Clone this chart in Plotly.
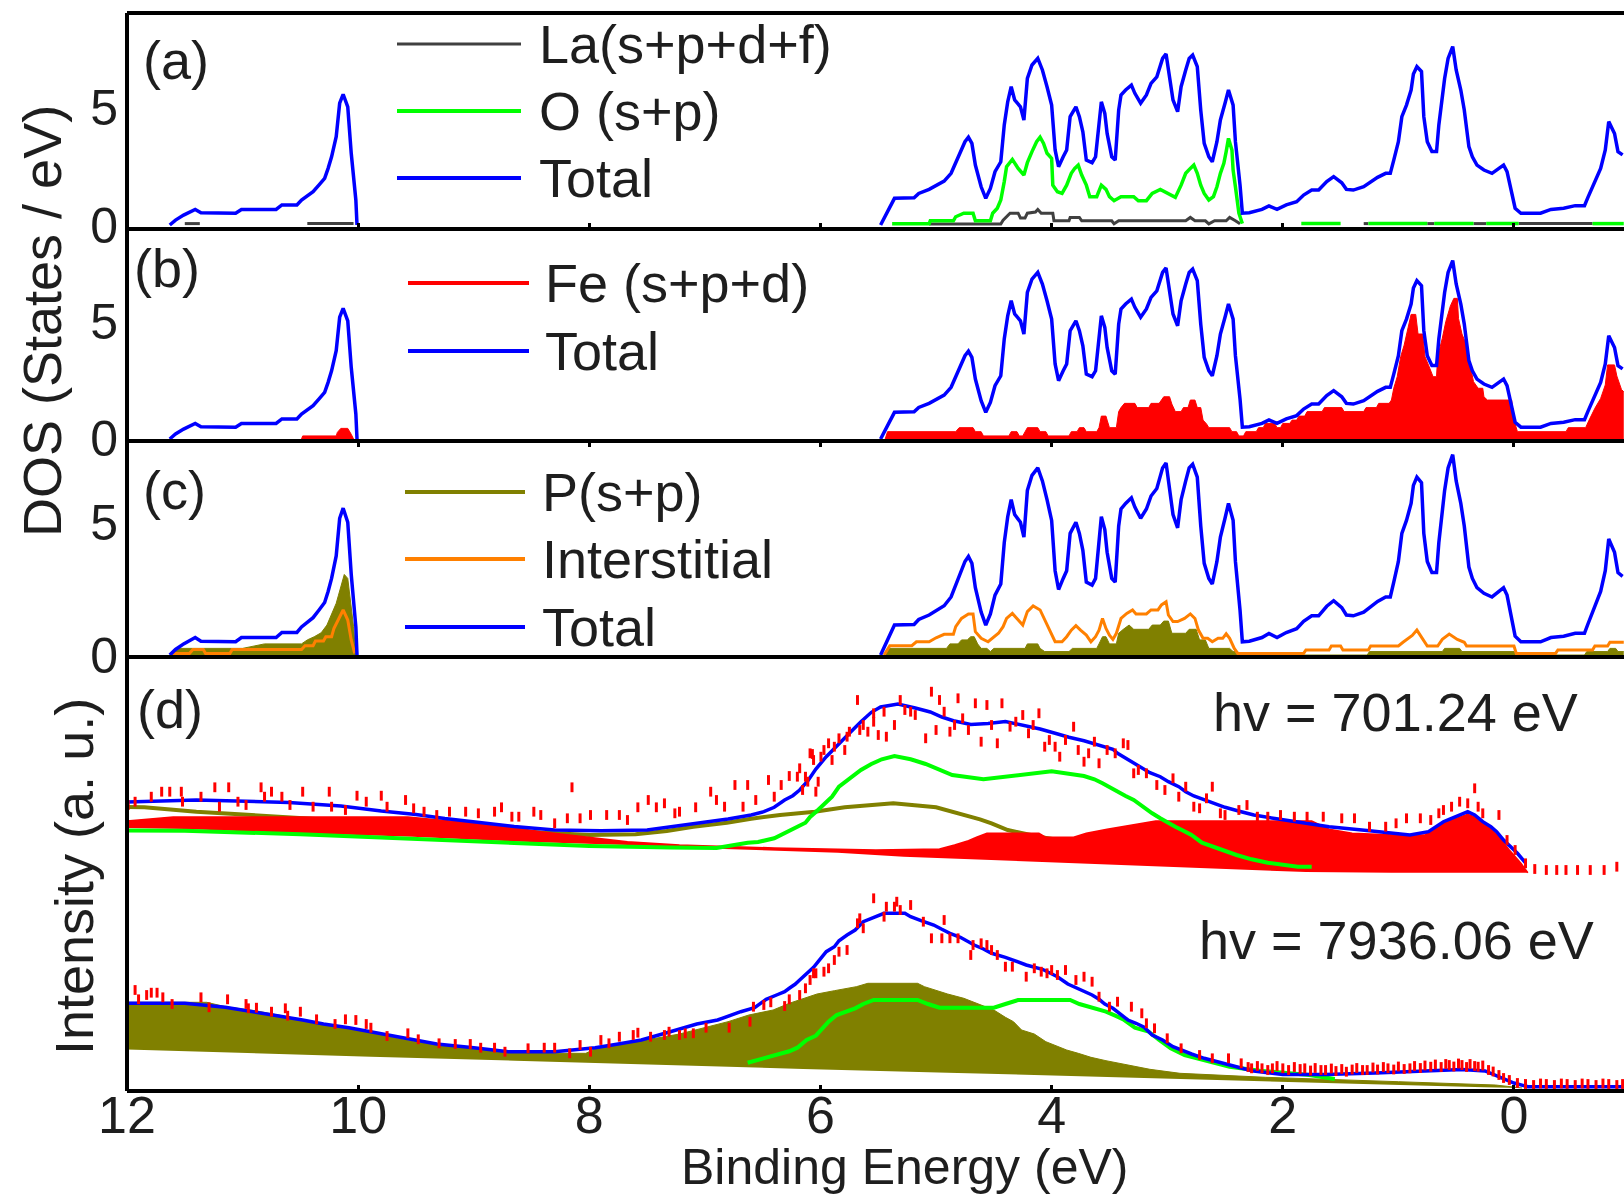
import plotly.graph_objects as go

FONT = "Liberation Sans, Arial, Helvetica, sans-serif"
TXT = "#1e1e1e"
BLUE, GREEN, GRAY, RED, OLIVE, ORANGE = "#0000ff", "#00ff00", "#404040", "#ff0000", "#808000", "#ff8000"

# ---------------- axes ----------------
x_ticks = [12, 10, 8, 6, 4, 2, 0]
x_tick_text = ["12", "10", "8", "6", "4", "2", "0"]
y_ticks_dos = [0, 5]

# ---------------- Total DOS (States / eV) ----------------
total_band1 = [(11.63, 0.0), (11.58, 0.21), (11.51, 0.42), (11.41, 0.66), (11.36, 0.52), (11.06, 0.50),
               (11.01, 0.66), (10.71, 0.66), (10.66, 0.85), (10.53, 0.85), (10.49, 1.06), (10.44, 1.23),
               (10.39, 1.41), (10.34, 1.69), (10.29, 1.98), (10.26, 2.40), (10.23, 2.89), (10.19, 3.74),
               (10.16, 5.16), (10.13, 5.54), (10.09, 5.01), (10.06, 3.04), (10.02, 1.06), (10.01, 0.0)]
total_band2 = [(5.48, 0.0), (5.36, 1.13), (5.19, 1.15), (5.15, 1.34), (5.06, 1.51), (4.98, 1.74), (4.93, 1.86),
               (4.87, 2.19), (4.83, 2.61), (4.78, 3.18), (4.75, 3.53), (4.72, 3.72), (4.69, 3.46), (4.66, 2.54),
               (4.61, 1.62), (4.57, 1.13), (4.53, 1.55), (4.49, 2.26), (4.44, 2.68), (4.41, 4.24), (4.38, 5.22),
               (4.35, 5.86), (4.32, 5.30), (4.27, 5.01), (4.24, 4.45), (4.21, 6.21), (4.17, 6.78), (4.12, 7.06),
               (4.08, 6.57), (4.04, 5.86), (4.00, 5.08), (3.97, 3.18), (3.94, 2.47), (3.90, 2.89), (3.87, 3.18),
               (3.84, 4.59), (3.79, 5.01), (3.76, 4.59), (3.73, 3.95), (3.70, 2.75), (3.65, 2.64), (3.62, 2.89),
               (3.60, 3.74), (3.57, 5.22), (3.54, 4.73), (3.52, 3.88), (3.48, 2.89), (3.45, 2.75), (3.42, 4.87),
               (3.40, 5.51), (3.36, 5.72), (3.31, 5.93), (3.28, 5.58), (3.23, 5.16), (3.18, 5.51), (3.14, 6.00),
               (3.09, 6.28), (3.04, 7.06), (3.01, 7.25), (2.98, 6.36), (2.95, 5.30), (2.91, 4.80), (2.88, 5.86),
               (2.84, 6.57), (2.81, 7.06), (2.78, 7.20), (2.74, 6.71), (2.71, 4.87), (2.68, 3.46), (2.64, 2.89),
               (2.61, 2.68), (2.57, 3.53), (2.54, 4.45), (2.50, 5.16), (2.47, 5.72), (2.43, 5.08), (2.41, 3.53),
               (2.37, 1.69), (2.35, 0.50), (2.29, 0.52), (2.18, 0.66), (2.12, 0.81), (2.05, 0.66), (1.97, 0.85),
               (1.88, 0.99), (1.82, 1.27), (1.75, 1.48), (1.69, 1.48), (1.62, 1.84), (1.56, 2.05), (1.49, 1.79),
               (1.45, 1.51), (1.39, 1.48), (1.30, 1.62), (1.24, 1.84), (1.18, 2.02), (1.11, 2.19), (1.07, 2.19),
               (1.04, 2.75), (1.00, 3.53), (0.97, 4.59), (0.93, 5.08), (0.89, 5.72), (0.87, 6.40), (0.84, 6.71),
               (0.80, 6.50), (0.78, 4.59), (0.75, 3.53), (0.71, 3.11), (0.67, 3.11), (0.65, 4.24), (0.63, 5.16),
               (0.60, 6.21), (0.57, 7.06), (0.53, 7.56), (0.50, 6.57), (0.46, 5.72), (0.43, 4.87), (0.39, 3.32),
               (0.36, 2.89), (0.32, 2.54), (0.26, 2.33), (0.19, 2.19), (0.13, 2.40), (0.09, 2.54), (0.06, 2.26),
               (0.02, 1.41), (-0.01, 0.71), (-0.06, 0.50), (-0.23, 0.50), (-0.32, 0.66), (-0.43, 0.71),
               (-0.53, 0.82), (-0.61, 0.82), (-0.64, 1.17), (-0.68, 1.62), (-0.72, 2.05), (-0.75, 2.40),
               (-0.79, 3.18), (-0.82, 4.38), (-0.87, 3.88), (-0.90, 3.11), (-0.94, 2.97)]

# ---------------- panel (a): La and O ----------------
la_segments = [
    [(11.50, 0.06), (11.37, 0.06)],
    [(10.44, 0.06), (10.04, 0.06)],
    [(5.06, 0.04), (4.44, 0.04), (4.42, 0.20), (4.36, 0.50), (4.29, 0.50), (4.27, 0.30), (4.23, 0.30),
     (4.21, 0.50), (4.14, 0.55), (4.12, 0.66), (4.09, 0.50), (3.99, 0.50), (3.98, 0.18), (3.85, 0.18),
     (3.84, 0.32), (3.76, 0.32), (3.74, 0.18), (3.48, 0.18), (3.46, 0.05), (3.42, 0.18), (2.84, 0.18),
     (2.80, 0.32), (2.76, 0.18), (2.67, 0.18), (2.64, 0.05), (2.59, 0.18), (2.49, 0.18), (2.46, 0.32),
     (2.41, 0.18), (2.37, 0.05)],
    [(1.30, 0.06), (1.26, 0.06)],
    [(0.75, 0.06), (0.69, 0.06)],
    [(0.35, 0.06), (0.24, 0.06)],
    [(-0.04, 0.06), (-0.68, 0.06)],
]
o_segments = [
    [(5.38, 0.05), (5.06, 0.05), (5.05, 0.18), (4.85, 0.18), (4.83, 0.35), (4.76, 0.50), (4.68, 0.50),
     (4.66, 0.18), (4.53, 0.18), (4.51, 0.50), (4.47, 0.71), (4.44, 1.06), (4.41, 1.84), (4.39, 2.47),
     (4.34, 2.78), (4.29, 2.40), (4.24, 2.12), (4.21, 2.64), (4.17, 3.11), (4.13, 3.53), (4.10, 3.72),
     (4.07, 3.46), (4.04, 3.04), (4.00, 2.82), (3.99, 1.69), (3.95, 1.41), (3.91, 1.34), (3.87, 1.69),
     (3.83, 2.19), (3.80, 2.40), (3.77, 2.54), (3.74, 2.12), (3.70, 1.69), (3.67, 1.20), (3.61, 1.20),
     (3.57, 1.69), (3.53, 1.51), (3.50, 1.20), (3.46, 1.03), (3.40, 1.20), (3.29, 1.20), (3.25, 1.03),
     (3.18, 1.03), (3.13, 1.34), (3.06, 1.51), (2.99, 1.34), (2.93, 1.17), (2.88, 1.69), (2.84, 2.19),
     (2.80, 2.40), (2.77, 2.54), (2.74, 2.19), (2.71, 1.69), (2.68, 1.34), (2.64, 1.06), (2.60, 1.20),
     (2.57, 1.62), (2.54, 2.19), (2.51, 2.61), (2.49, 3.11), (2.47, 3.67), (2.44, 3.18), (2.43, 2.33),
     (2.41, 1.62), (2.38, 0.50), (2.35, 0.06)],
    [(1.84, 0.06), (1.50, 0.06)],
    [(1.26, 0.06), (0.75, 0.06)],
    [(0.69, 0.06), (0.35, 0.06)],
    [(0.24, 0.06), (-0.04, 0.06)],
    [(-0.68, 0.06), (-0.95, 0.06)],
]

# ---------------- panel (b): Fe ----------------
fe_band1 = [(10.49, 0.0), (10.48, 0.13), (10.19, 0.13), (10.18, 0.28), (10.15, 0.45), (10.09, 0.45),
            (10.06, 0.20), (10.04, 0.0)]
fe_band2 = [(5.44, 0.0), (5.42, 0.31), (4.83, 0.31), (4.80, 0.48), (4.68, 0.48), (4.66, 0.31), (4.61, 0.31),
            (4.59, 0.13), (4.37, 0.13), (4.35, 0.31), (4.30, 0.31), (4.28, 0.13), (4.25, 0.13), (4.23, 0.31),
            (4.21, 0.48), (4.12, 0.48), (4.10, 0.31), (4.05, 0.31), (4.03, 0.13), (3.85, 0.13), (3.83, 0.31),
            (3.78, 0.31), (3.76, 0.48), (3.72, 0.48), (3.70, 0.31), (3.61, 0.31), (3.59, 0.48), (3.57, 0.97),
            (3.53, 0.97), (3.52, 0.80), (3.50, 0.48), (3.44, 0.48), (3.42, 1.16), (3.40, 1.33), (3.37, 1.51),
            (3.28, 1.51), (3.26, 1.33), (3.16, 1.33), (3.14, 1.51), (3.07, 1.51), (3.05, 1.65), (3.03, 1.79),
            (2.98, 1.79), (2.96, 1.48), (2.93, 1.16), (2.88, 1.16), (2.86, 1.33), (2.82, 1.33), (2.80, 1.65),
            (2.76, 1.65), (2.74, 1.33), (2.71, 1.33), (2.69, 0.80), (2.66, 0.64), (2.64, 0.48), (2.46, 0.48),
            (2.44, 0.31), (2.40, 0.31), (2.38, 0.13), (2.34, 0.13), (2.32, 0.31), (2.23, 0.31), (2.21, 0.48),
            (2.17, 0.48), (2.15, 0.66), (2.07, 0.66), (2.05, 0.48), (2.02, 0.48), (2.00, 0.66), (1.94, 0.66),
            (1.92, 0.80), (1.88, 0.80), (1.86, 0.97), (1.81, 0.97), (1.79, 1.16), (1.66, 1.16), (1.64, 1.33),
            (1.49, 1.33), (1.47, 1.16), (1.30, 1.16), (1.28, 1.33), (1.19, 1.33), (1.17, 1.51), (1.08, 1.51),
            (1.06, 1.65), (1.04, 2.15), (1.01, 2.64), (0.98, 3.49), (0.95, 3.98), (0.92, 4.62), (0.89, 5.28),
            (0.85, 5.28), (0.83, 4.45), (0.79, 4.45), (0.77, 3.49), (0.74, 3.14), (0.70, 2.64), (0.67, 2.64),
            (0.66, 3.49), (0.62, 4.27), (0.59, 4.97), (0.55, 5.64), (0.52, 5.96), (0.49, 5.96), (0.48, 5.11),
            (0.45, 4.45), (0.41, 3.98), (0.38, 3.14), (0.35, 2.43), (0.31, 2.15), (0.27, 2.15), (0.26, 1.79),
            (0.23, 1.65), (0.02, 1.65), (0.00, 0.80), (-0.03, 0.31), (-0.45, 0.31), (-0.47, 0.48), (-0.62, 0.48),
            (-0.65, 0.80), (-0.70, 1.30), (-0.75, 1.72), (-0.79, 2.29), (-0.81, 3.14), (-0.87, 3.14),
            (-0.89, 2.67), (-0.93, 2.10), (-0.95, 2.00)]

# ---------------- panel (c): P and interstitial ----------------
p_band1 = [(11.62, 0.0), (11.55, 0.25), (11.00, 0.25), (10.81, 0.42), (10.49, 0.42), (10.44, 0.57),
           (10.38, 0.69), (10.32, 0.84), (10.27, 1.13), (10.23, 1.51), (10.19, 1.95), (10.17, 2.26),
           (10.14, 2.70), (10.12, 3.04), (10.09, 2.89), (10.07, 2.20), (10.04, 1.07), (10.02, 0.0)]
p_band2 = [(5.45, 0.0), (5.42, 0.25), (4.91, 0.25), (4.88, 0.42), (4.81, 0.42), (4.78, 0.57), (4.73, 0.57),
           (4.70, 0.69), (4.67, 0.69), (4.64, 0.42), (4.61, 0.25), (4.56, 0.25), (4.53, 0.13), (4.50, 0.25),
           (4.23, 0.25), (4.21, 0.42), (4.12, 0.42), (4.10, 0.25), (4.06, 0.13), (3.85, 0.13), (3.82, 0.25),
           (3.61, 0.25), (3.59, 0.42), (3.56, 0.69), (3.53, 0.69), (3.50, 0.42), (3.44, 0.42), (3.42, 0.82),
           (3.38, 0.97), (3.33, 1.13), (3.29, 0.97), (3.16, 0.97), (3.13, 1.13), (3.06, 1.13), (3.03, 1.28),
           (2.99, 1.28), (2.96, 0.82), (2.84, 0.82), (2.81, 0.97), (2.75, 0.97), (2.72, 0.57), (2.67, 0.57),
           (2.64, 0.25), (2.46, 0.25), (2.43, 0.13), (2.39, 0.13), (2.37, 0.0), (1.27, 0.0), (1.25, 0.13),
           (0.62, 0.13), (0.60, 0.25), (0.47, 0.25), (0.45, 0.13), (0.00, 0.13), (-0.02, 0.0), (-0.61, 0.0),
           (-0.63, 0.13), (-0.81, 0.13), (-0.83, 0.25), (-0.88, 0.25), (-0.90, 0.13), (-0.95, 0.13)]
inter_band1 = [(11.62, 0.06), (11.46, 0.06), (11.43, 0.21), (11.34, 0.21), (11.32, 0.06), (11.11, 0.06),
               (11.09, 0.21), (10.49, 0.21), (10.46, 0.35), (10.39, 0.35), (10.37, 0.53), (10.30, 0.53),
               (10.28, 0.69), (10.23, 0.69), (10.21, 1.00), (10.17, 1.38), (10.13, 1.70), (10.09, 1.32),
               (10.06, 0.57), (10.03, 0.06)]
inter_band2 = [(5.45, 0.0), (5.40, 0.35), (5.21, 0.35), (5.17, 0.50), (5.06, 0.50), (5.00, 0.65), (4.93, 0.78),
               (4.85, 0.78), (4.83, 1.07), (4.78, 1.38), (4.72, 1.55), (4.68, 1.55), (4.66, 0.88), (4.61, 0.63),
               (4.55, 0.50), (4.51, 0.63), (4.46, 0.82), (4.42, 1.07), (4.39, 1.38), (4.34, 1.57), (4.29, 1.32),
               (4.25, 1.13), (4.21, 1.64), (4.16, 1.85), (4.10, 1.70), (4.06, 1.32), (4.02, 0.94), (3.97, 0.50),
               (3.91, 0.50), (3.87, 0.69), (3.83, 0.94), (3.79, 1.11), (3.75, 0.94), (3.70, 0.75), (3.66, 0.50),
               (3.62, 0.69), (3.59, 0.94), (3.56, 1.38), (3.53, 1.00), (3.50, 0.75), (3.47, 0.59), (3.44, 0.82),
               (3.40, 1.38), (3.35, 1.57), (3.30, 1.70), (3.27, 1.55), (3.18, 1.55), (3.14, 1.70), (3.08, 1.70),
               (3.05, 1.89), (3.01, 2.01), (2.99, 1.51), (2.95, 1.26), (2.91, 1.26), (2.85, 1.38), (2.80, 1.55),
               (2.76, 1.38), (2.73, 0.94), (2.69, 0.63), (2.65, 0.63), (2.61, 0.50), (2.56, 0.63), (2.52, 0.63),
               (2.49, 0.80), (2.46, 0.63), (2.42, 0.25), (2.39, 0.06), (1.82, 0.06), (1.80, 0.19), (1.60, 0.19),
               (1.58, 0.34), (1.50, 0.34), (1.48, 0.19), (1.26, 0.19), (1.24, 0.34), (1.00, 0.34), (0.96, 0.48),
               (0.88, 0.74), (0.84, 0.94), (0.79, 0.59), (0.75, 0.34), (0.66, 0.34), (0.62, 0.59), (0.56, 0.79),
               (0.49, 0.59), (0.43, 0.48), (0.41, 0.34), (0.00, 0.34), (-0.02, 0.06), (-0.36, 0.06),
               (-0.38, 0.19), (-0.68, 0.19), (-0.70, 0.34), (-0.81, 0.34), (-0.83, 0.48), (-0.95, 0.48)]

# ---------------- panel (d): photoemission, upper spectrum (hv = 701.24 eV) ----------------
up_background = [(12.0, 263.0), (11.5, 262.0), (10.5, 257.7), (9.53, 254.3), (8.58, 249.3), (7.67, 246.0),
                 (6.83, 242.0), (6.22, 239.3), (5.85, 238.3), (5.28, 234.3), (4.56, 231.0), (3.61, 227.0),
                 (2.68, 222.7), (1.80, 219.0), (1.06, 218.3), (-0.12, 218.3)]
up_fe = [(12.0, 270.0), (11.6, 274.0), (9.57, 274.0), (9.12, 269.3), (8.75, 265.0), (8.42, 259.3), (8.03, 254.3),
         (7.67, 249.3), (7.22, 246.0), (6.40, 243.0), (5.52, 241.0), (4.97, 242.0), (4.84, 246.0), (4.72, 250.3),
         (4.65, 253.7), (4.56, 257.7), (4.11, 257.7), (4.05, 253.7), (3.81, 253.7), (3.70, 257.7), (3.52, 261.7),
         (3.30, 266.0), (3.10, 270.0), (1.75, 270.0), (1.60, 261.7), (1.40, 257.7), (1.04, 256.0), (0.77, 256.0),
         (0.72, 261.0), (0.61, 267.7), (0.50, 272.7), (0.40, 276.7), (0.31, 272.7), (0.22, 264.3), (0.13, 254.3),
         (0.04, 241.0), (-0.06, 227.7), (-0.12, 218.3)]
up_p = [(12.0, 284.0), (11.85, 283.7), (11.4, 279.3), (10.95, 276.0), (10.5, 273.0), (9.5, 266.0), (8.5, 259.0),
        (8.0, 256.0), (7.6, 256.7), (7.33, 260.0), (7.1, 264.3), (6.81, 268.3), (6.6, 272.3), (6.35, 276.0),
        (6.05, 279.3), (5.79, 283.7), (5.37, 287.7), (5.0, 283.7), (4.85, 279.3), (4.72, 275.3), (4.62, 271.7),
        (4.52, 267.7), (4.38, 261.0), (4.1, 254.0), (3.8, 248.0), (3.4, 241.0), (3.0, 236.0), (2.5, 232.0),
        (2.0, 228.0)]
up_o = [(12.0, 260.5), (11.5, 260.3), (10.5, 256.7), (9.5, 252.0), (8.8, 248.7), (8.0, 245.0), (7.3, 243.5),
        (6.9, 243.0), (6.63, 248.3), (6.54, 249.0), (6.40, 252.7), (6.33, 257.0), (6.27, 261.0), (6.20, 264.3),
        (6.13, 268.3), (6.09, 274.0), (6.04, 279.0), (5.97, 286.0), (5.90, 294.3), (5.84, 304.3), (5.75, 312.7),
        (5.65, 321.0), (5.56, 327.0), (5.47, 331.7), (5.36, 335.0), (5.22, 331.7), (5.09, 327.0), (5.00, 322.7),
        (4.86, 316.0), (4.59, 311.7), (4.29, 316.0), (4.00, 319.7), (3.72, 315.0), (3.63, 311.7), (3.56, 307.7),
        (3.50, 303.7), (3.43, 299.3), (3.36, 295.0), (3.29, 291.0), (3.20, 283.3), (3.13, 277.7), (3.06, 272.7),
        (3.00, 268.3), (2.93, 264.3), (2.86, 260.3), (2.79, 256.0), (2.70, 248.3), (2.61, 244.3), (2.52, 240.3),
        (2.40, 236.0), (2.27, 231.7), (2.13, 228.3), (1.87, 224.3), (1.75, 224.3)]
up_fit = [(12.0, 289.0), (11.4, 291.0), (10.6, 288.5), (10.15, 285.0), (9.8, 280.0), (9.5, 276.5), (9.25, 272.5),
          (8.95, 268.5), (8.65, 264.5), (8.3, 261.0), (7.9, 260.3), (7.5, 261.0), (7.3, 264.0), (7.05, 268.0),
          (6.8, 272.0), (6.6, 276.0), (6.49, 279.3), (6.40, 283.7), (6.31, 291.0), (6.24, 295.3), (6.18, 301.0),
          (6.11, 310.0), (6.04, 322.0), (5.95, 334.3), (5.86, 344.3), (5.75, 357.7), (5.65, 369.3), (5.56, 378.7),
          (5.48, 384.0), (5.33, 387.0), (5.18, 383.0), (5.05, 379.0), (4.95, 374.0), (4.85, 370.3), (4.70, 366.5),
          (4.55, 367.5), (4.40, 369.5), (4.25, 366.0), (4.10, 362.0), (3.97, 357.7), (3.85, 353.7), (3.72, 350.3),
          (3.59, 346.0), (3.47, 341.7), (3.43, 337.7), (3.36, 332.7), (3.29, 327.7), (3.22, 322.7), (3.15, 318.3),
          (3.06, 314.3), (2.99, 309.3), (2.90, 304.3), (2.84, 299.3), (2.77, 295.0), (2.68, 291.0), (2.59, 287.0),
          (2.50, 283.7), (2.36, 279.3), (2.25, 276.0), (2.04, 272.0), (1.84, 268.3), (1.60, 264.3), (1.25, 260.3),
          (0.90, 256.0), (0.74, 259.3), (0.68, 264.3), (0.61, 269.3), (0.54, 272.7), (0.47, 276.0), (0.40, 279.3),
          (0.34, 276.0), (0.27, 269.3), (0.20, 264.3), (0.15, 259.3), (0.09, 251.0), (0.02, 242.7), (-0.03, 237.7),
          (-0.10, 228.0)]
up_exp = [(11.99, 286.0), (11.93, 289.3), (11.79, 294.3), (11.70, 299.3), (11.63, 299.3), (11.53, 299.3),
          (11.52, 289.3), (11.36, 294.3), (11.24, 303.7), (11.20, 284.3), (11.12, 303.7), (11.04, 289.3),
          (10.97, 286.0), (10.84, 303.7), (10.81, 294.3), (10.75, 299.3), (10.66, 294.3), (10.59, 286.0),
          (10.48, 299.3), (10.39, 284.3), (10.25, 299.3), (10.23, 284.3), (10.11, 281.0), (10.01, 295.3),
          (9.93, 289.3), (9.80, 295.3), (9.75, 284.3), (9.59, 291.0), (9.52, 282.7), (9.43, 279.3), (9.32, 276.0),
          (9.21, 279.3), (9.07, 279.3), (8.96, 277.7), (8.82, 279.3), (8.76, 283.7), (8.67, 274.3), (8.61, 274.3),
          (8.48, 279.3), (8.42, 276.0), (8.30, 267.7), (8.19, 272.7), (8.15, 303.7), (8.08, 272.7), (7.99, 276.0),
          (7.85, 276.0), (7.74, 276.0), (7.67, 271.0), (7.58, 283.7), (7.49, 291.0), (7.42, 283.7), (7.35, 287.7),
          (7.26, 277.7), (7.22, 279.3), (7.08, 283.7), (6.95, 299.3), (6.90, 291.0), (6.83, 284.3), (6.74, 306.0),
          (6.67, 284.3), (6.63, 306.0), (6.56, 291.0), (6.45, 311.0), (6.40, 294.3), (6.34, 306.0), (6.27, 315.0),
          (6.20, 314.3), (6.18, 322.7), (6.155, 301.0), (6.13, 314.3), (6.11, 309.3), (6.09, 337.7), (6.07, 337.0),
          (6.06, 331.0), (6.04, 299.3), (6.02, 309.3), (5.996, 334.3), (5.97, 341.0), (5.93, 347.7), (5.90, 331.0),
          (5.88, 344.3), (5.84, 352.7), (5.79, 341.0), (5.77, 354.3), (5.75, 359.3), (5.68, 391.0), (5.66, 361.0),
          (5.63, 366.0), (5.59, 359.3), (5.54, 369.3), (5.54, 377.7), (5.50, 356.0), (5.45, 379.3), (5.43, 354.3),
          (5.36, 366.0), (5.31, 391.0), (5.27, 381.0), (5.22, 379.3), (5.18, 376.0), (5.09, 352.7), (5.04, 399.3),
          (5.00, 361.0), (4.97, 391.0), (4.93, 379.3), (4.88, 359.3), (4.84, 366.0), (4.81, 392.7), (4.77, 372.7),
          (4.72, 361.0), (4.66, 387.7), (4.61, 349.3), (4.56, 386.0), (4.52, 366.0), (4.47, 347.7), (4.43, 387.7),
          (4.36, 364.3), (4.31, 369.3), (4.25, 376.0), (4.20, 357.7), (4.16, 366.0), (4.11, 377.7), (4.06, 344.3),
          (4.02, 351.0), (3.97, 344.3), (3.93, 334.3), (3.88, 351.0), (3.81, 364.3), (3.77, 341.0), (3.72, 329.3),
          (3.68, 337.7), (3.63, 349.3), (3.59, 327.7), (3.52, 341.0), (3.45, 337.7), (3.38, 347.7), (3.34, 346.0),
          (3.29, 317.7), (3.25, 321.0), (3.18, 317.7), (3.09, 306.0), (3.02, 301.0), (2.95, 312.7), (2.90, 294.3),
          (2.84, 304.3), (2.77, 284.3), (2.72, 282.7), (2.66, 292.7), (2.61, 304.3), (2.54, 277.7), (2.50, 276.0),
          (2.38, 281.0), (2.31, 286.0), (2.22, 274.3), (2.13, 274.3), (2.02, 276.0), (1.90, 274.3), (1.79, 274.3),
          (1.65, 274.3), (1.49, 272.7), (1.38, 272.7), (1.25, 264.3), (1.11, 264.3), (1.02, 267.7), (0.93, 272.7),
          (0.81, 272.7), (0.72, 271.0), (0.65, 277.7), (0.61, 281.0), (0.54, 284.3), (0.47, 289.3), (0.40, 287.7),
          (0.34, 302.7), (0.31, 284.3), (0.27, 277.7), (0.13, 276.0), (0.06, 251.0), (-0.01, 241.0),
          (-0.10, 227.7), (-0.18, 222.0), (-0.28, 221.0), (-0.37, 221.0), (-0.45, 221.0), (-0.55, 221.0),
          (-0.66, 221.0), (-0.78, 221.0), (-0.89, 224.3)]

# ---------------- panel (d): lower spectrum (hv = 7936.06 eV) ----------------
lo_background = [(12.0, 41.5), (11.13, 38.3), (9.89, 34.3), (8.64, 30.3), (7.4, 26.0), (6.15, 22.0), (4.9, 18.3),
                 (3.67, 14.3), (2.43, 10.3), (1.2, 6.7), (0.26, 3.7), (-0.07, 3.0)]
lo_p = [(12.0, 88.7), (11.31, 88.7), (11.15, 84.3), (10.89, 80.3), (10.69, 76.0), (10.48, 71.0), (10.29, 67.0),
        (10.09, 62.7), (9.87, 57.7), (9.70, 53.7), (9.50, 49.3), (9.25, 45.3), (8.96, 41.7), (8.66, 39.3),
        (8.30, 37.7), (8.03, 37.7), (7.94, 42.7), (7.76, 47.0), (7.51, 51.0), (7.22, 57.0), (6.98, 64.3),
        (6.80, 69.3), (6.62, 76.0), (6.41, 81.0), (6.27, 87.7), (6.13, 92.7), (6.03, 97.0), (5.88, 100.3),
        (5.69, 104.3), (5.59, 107.7), (5.16, 107.7), (5.10, 104.3), (5.00, 100.3), (4.90, 97.0), (4.76, 92.7),
        (4.62, 86.0), (4.50, 81.0), (4.40, 73.7), (4.33, 69.3), (4.26, 61.0), (4.15, 57.0), (4.05, 49.3),
        (3.97, 45.3), (3.87, 41.0), (3.77, 37.7), (3.66, 33.7), (3.53, 30.3), (3.35, 26.0), (3.15, 21.7),
        (2.89, 17.7), (2.15, 13.7), (1.00, 9.3), (0.16, 6.0), (-0.07, 3.0)]
lo_o = [(6.63, 28.3), (6.52, 32.0), (6.39, 36.0), (6.27, 39.7), (6.20, 43.3), (6.12, 51.0), (6.04, 55.3),
        (5.97, 64.3), (5.93, 69.3), (5.86, 76.0), (5.77, 79.3), (5.70, 82.7), (5.63, 87.0), (5.54, 91.0),
        (5.35, 91.0), (5.16, 91.0), (5.07, 87.0), (4.97, 83.3), (4.73, 83.3), (4.50, 83.3), (4.40, 87.0),
        (4.29, 91.0), (4.05, 91.0), (3.84, 91.0), (3.76, 87.0), (3.64, 83.3), (3.53, 79.3), (3.45, 75.3),
        (3.38, 71.7), (3.28, 63.3), (3.16, 59.3), (3.07, 51.0), (2.97, 42.7), (2.85, 36.0), (2.73, 32.7),
        (2.60, 28.3), (2.46, 24.3), (2.20, 20.3), (1.77, 16.0), (1.55, 12.0)]
lo_fit = [(12.0, 87.7), (11.5, 87.7), (11.15, 83.7), (10.9, 79.3), (10.7, 75.3), (10.48, 71.0), (10.3, 67.0),
          (10.08, 63.3), (9.9, 59.3), (9.71, 55.3), (9.5, 51.0), (9.32, 47.0), (9.0, 43.3), (8.7, 39.3),
          (8.3, 39.3), (7.95, 43.3), (7.75, 47.0), (7.55, 51.0), (7.3, 59.3), (7.07, 67.0), (6.89, 71.0),
          (6.69, 79.3), (6.57, 83.3), (6.47, 91.7), (6.38, 96.0), (6.31, 99.3), (6.27, 102.7), (6.22, 106.7),
          (6.18, 111.0), (6.13, 116.0), (6.06, 123.7), (6.02, 129.3), (5.95, 139.3), (5.88, 144.3), (5.84, 150.3),
          (5.77, 156.0), (5.70, 161.0), (5.63, 169.3), (5.54, 173.7), (5.45, 177.7), (5.27, 177.7), (5.22, 174.3),
          (5.13, 170.3), (5.02, 166.0), (4.95, 161.7), (4.88, 157.7), (4.79, 153.7), (4.67, 146.0), (4.59, 142.0),
          (4.52, 137.7), (4.40, 133.7), (4.31, 130.3), (4.22, 126.0), (4.08, 121.7), (3.95, 114.3), (3.86, 107.0),
          (3.76, 101.7), (3.65, 96.0), (3.59, 91.7), (3.54, 87.0), (3.47, 82.7), (3.40, 76.0), (3.34, 71.0),
          (3.27, 67.7), (3.20, 63.7), (3.13, 56.0), (3.04, 51.0), (2.95, 44.3), (2.88, 41.0), (2.79, 37.0),
          (2.68, 32.7), (2.54, 28.3), (2.40, 24.3), (2.27, 20.3), (2.00, 16.5), (1.63, 16.5), (1.20, 18.0),
          (0.80, 20.0), (0.45, 21.5), (0.25, 20.0), (0.12, 14.0), (0.00, 8.0), (-0.12, 4.3), (-0.95, 4.3)]
lo_exp = [(11.93, 101.0), (11.90, 91.7), (11.83, 96.0), (11.79, 98.3), (11.74, 98.3), (11.69, 93.7), (11.61, 87.0),
          (11.36, 93.7), (11.29, 83.7), (11.13, 91.7), (10.97, 87.0), (10.95, 82.7), (10.88, 83.3), (10.75, 79.3),
          (10.63, 82.7), (10.61, 75.3), (10.50, 79.3), (10.36, 71.7), (10.20, 67.0), (10.11, 71.7), (10.02, 71.0),
          (9.93, 67.0), (9.89, 63.3), (9.75, 55.0), (9.57, 57.7), (9.48, 51.7), (9.30, 47.7), (9.16, 47.0),
          (9.03, 47.0), (8.94, 43.3), (8.82, 43.3), (8.73, 39.3), (8.53, 42.7), (8.39, 43.3), (8.30, 43.3),
          (8.17, 37.7), (8.08, 46.0), (7.99, 39.3), (7.90, 51.0), (7.83, 47.7), (7.74, 54.3), (7.62, 56.0),
          (7.58, 58.3), (7.47, 54.3), (7.35, 56.0), (7.31, 59.3), (7.22, 56.0), (7.17, 57.7), (7.10, 57.7),
          (6.99, 63.3), (6.79, 63.3), (6.61, 69.3), (6.58, 84.3), (6.49, 86.0), (6.43, 88.7), (6.31, 85.0),
          (6.27, 91.7), (6.18, 96.0), (6.13, 102.7), (6.09, 111.0), (6.06, 117.7), (6.04, 117.7), (5.97, 119.3),
          (5.93, 122.7), (5.88, 131.0), (5.84, 139.3), (5.77, 141.0), (5.68, 167.7), (5.66, 172.7), (5.63, 162.7),
          (5.54, 192.7), (5.45, 174.3), (5.43, 184.3), (5.36, 184.3), (5.34, 189.3), (5.31, 181.0), (5.22, 186.0),
          (5.11, 169.3), (5.04, 152.7), (4.95, 152.7), (4.93, 171.0), (4.88, 152.7), (4.81, 152.7), (4.70, 136.0),
          (4.68, 146.0), (4.61, 147.7), (4.56, 146.0), (4.52, 141.0), (4.47, 136.0), (4.40, 124.3), (4.34, 124.3),
          (4.22, 114.3), (4.15, 122.7), (4.09, 119.3), (4.04, 117.7), (4.00, 121.0), (3.95, 116.0), (3.88, 121.0),
          (3.79, 111.0), (3.72, 114.3), (3.65, 109.3), (3.59, 94.3), (3.50, 84.3), (3.43, 89.3), (3.31, 84.3),
          (3.22, 77.7), (3.18, 67.7), (3.11, 62.7), (3.00, 52.7), (2.88, 42.7), (2.72, 36.0), (2.61, 32.7),
          (2.47, 32.7), (2.36, 27.7), (2.30, 24.0), (2.27, 22.7), (2.22, 25.0), (2.18, 22.7), (2.13, 21.0),
          (2.09, 22.7), (2.05, 25.0), (2.00, 22.7), (1.95, 21.0), (1.90, 24.0), (1.85, 22.0), (1.81, 22.7),
          (1.76, 20.5), (1.72, 23.0), (1.67, 21.0), (1.63, 21.0), (1.58, 22.5), (1.54, 20.0), (1.49, 22.0),
          (1.45, 19.3), (1.40, 21.5), (1.36, 23.0), (1.31, 21.0), (1.27, 21.0), (1.22, 23.5), (1.18, 21.5),
          (1.13, 24.0), (1.09, 22.7), (1.04, 21.5), (1.00, 24.5), (0.95, 22.0), (0.90, 22.7), (0.86, 25.0),
          (0.81, 23.0), (0.77, 25.5), (0.72, 24.3), (0.68, 26.5), (0.63, 24.0), (0.59, 27.0), (0.56, 26.0),
          (0.52, 24.5), (0.48, 27.5), (0.45, 26.0), (0.41, 24.0), (0.38, 27.0), (0.34, 25.0), (0.31, 24.3),
          (0.27, 25.5), (0.22, 21.0), (0.18, 19.5), (0.13, 16.0), (0.09, 13.0), (0.04, 11.0), (-0.03, 8.0),
          (-0.10, 7.0), (-0.17, 6.0), (-0.23, 7.5), (-0.28, 7.0), (-0.35, 6.0), (-0.41, 7.5), (-0.46, 7.0),
          (-0.53, 6.0), (-0.59, 7.5), (-0.64, 7.0), (-0.71, 6.0), (-0.77, 7.5), (-0.82, 7.0), (-0.89, 6.0),
          (-0.94, 7.0)]


def xs(pts):
    return [p[0] for p in pts]


def ys(pts):
    return [p[1] for p in pts]


def joined(segments):
    x, y = [], []
    for i, seg in enumerate(segments):
        if i:
            x.append(None)
            y.append(None)
        x += xs(seg)
        y += ys(seg)
    return x, y


fig = go.Figure()


def line(pts_x, pts_y, color, width, ax, fill=None, fillcolor=None, shape="linear"):
    fig.add_trace(go.Scatter(x=pts_x, y=pts_y, mode="lines", xaxis="x" + ax, yaxis="y" + ax,
                             line=dict(color=color, width=width, shape=shape),
                             fill=fill, fillcolor=fillcolor, hoverinfo="skip", connectgaps=False))


tot_x, tot_y = joined([total_band1, total_band2])

# panel (a)
lx, ly = joined(la_segments)
line(lx, ly, GRAY, 3, "")
ox, oy = joined(o_segments)
line(ox, oy, GREEN, 3.5, "")
line(tot_x, tot_y, BLUE, 3.5, "")

# panel (b)
for band in (fe_band1, fe_band2):
    line(xs(band), ys(band), RED, 1, "2", fill="tozeroy", fillcolor=RED)
line(tot_x, tot_y, BLUE, 3.5, "2")

# panel (c)
for band in (p_band1, p_band2):
    line(xs(band), ys(band), OLIVE, 1, "3", fill="tozeroy", fillcolor=OLIVE)
for band in (inter_band1, inter_band2):
    line(xs(band), ys(band), ORANGE, 3, "3")
line(tot_x, tot_y, BLUE, 3.5, "3")

# panel (d) upper spectrum
line(xs(up_p), ys(up_p), OLIVE, 4, "4")
line(xs(up_background), ys(up_background), "rgba(0,0,0,0)", 0, "4")
line(xs(up_fe), ys(up_fe), RED, 1.5, "4", fill="tonexty", fillcolor=RED)
line(xs(up_o), ys(up_o), GREEN, 4, "4")
line(xs(up_fit), ys(up_fit), BLUE, 3.5, "4")
fig.add_trace(go.Scatter(x=xs(up_exp), y=ys(up_exp), mode="markers", xaxis="x4", yaxis="y4",
                         marker=dict(symbol="line-ns", size=7, line=dict(color=RED, width=3)),
                         hoverinfo="skip"))

# panel (d) lower spectrum
line(xs(lo_background), ys(lo_background), "rgba(0,0,0,0)", 0, "4")
line(xs(lo_p), ys(lo_p), OLIVE, 1, "4", fill="tonexty", fillcolor=OLIVE)
line(xs(lo_o), ys(lo_o), GREEN, 4, "4")
line(xs(lo_fit), ys(lo_fit), BLUE, 3.5, "4")
fig.add_trace(go.Scatter(x=xs(lo_exp), y=ys(lo_exp), mode="markers", xaxis="x4", yaxis="y4",
                         marker=dict(symbol="line-ns", size=7, line=dict(color=RED, width=3)),
                         hoverinfo="skip"))

# ---------------- layout ----------------
W, H = 1624, 1197
ML, MR, MT, MB = 127, 0, 13, 106
PW, PH = W - ML - MR, H - MT - MB


def px_x(px):
    return (px - ML) / PW


def px_y(py):
    return (H - MB - py) / PH


b_ab, b_bc, b_cd = px_y(229), px_y(441), px_y(657)
domains = {"": [b_ab, 1], "2": [b_bc, b_ab], "3": [b_cd, b_bc], "4": [0, b_cd]}
y_ranges = {"": [-0.169, 8.983], "2": [-0.085, 8.9], "3": [-0.075, 8.075], "4": [0, 434]}

xrange_ = [12, -0.952]
layout = dict(width=W, height=H, margin=dict(l=ML, r=MR, t=MT, b=MB), plot_bgcolor="white",
              paper_bgcolor="white", showlegend=False, font=dict(family=FONT, size=52, color=TXT))
for ax in ["", "2", "3", "4"]:
    xa = dict(domain=[0, 1], range=xrange_, anchor="y" + ax, showgrid=False, zeroline=False, showline=False,
              tickvals=x_ticks, ticktext=x_tick_text, ticks="inside", ticklen=6, tickwidth=3,
              tickcolor="black", showticklabels=False)
    if ax == "2":
        xa["ticks"] = ""
    if ax == "3":
        xa["side"] = "top"
    if ax == "4":
        xa["showticklabels"] = True
        xa["tickfont"] = dict(family=FONT, size=52, color=TXT)
        xa["ticklabelstandoff"] = -11
    ya = dict(domain=domains[ax], range=y_ranges[ax], anchor="x" + ax, showgrid=False, zeroline=False,
              showline=False, ticks="", tickvals=y_ticks_dos if ax != "4" else [],
              showticklabels=(ax != "4"), tickfont=dict(family=FONT, size=50, color=TXT),
              ticklabelstandoff=8)
    layout["xaxis" + ax] = xa
    layout["yaxis" + ax] = ya

shapes = []
# frame
shapes.append(dict(type="line", xref="paper", yref="paper", x0=0, x1=0, y0=0, y1=1,
                   line=dict(color="black", width=4), layer="above"))
for yb in [0, b_cd, b_bc, b_ab, 1]:
    shapes.append(dict(type="line", xref="paper", yref="paper", x0=0, x1=1, y0=yb, y1=yb,
                       line=dict(color="black", width=4), layer="above"))

legend_items = [
    ("La(s+p+d+f)", GRAY, 3, 397, 521, 44, 537),
    ("O (s+p)", GREEN, 4, 397, 521, 111, 537),
    ("Total", BLUE, 4, 397, 521, 178, 537),
    ("Fe (s+p+d)", RED, 4, 408, 529, 283, 543),
    ("Total", BLUE, 4, 408, 529, 351, 543),
    ("P(s+p)", OLIVE, 4, 405, 525, 492, 540),
    ("Interstitial", ORANGE, 4, 405, 525, 559, 540),
    ("Total", BLUE, 4, 405, 525, 627, 540),
]
annotations = []
for text, color, w, x0, x1, yy, tx in legend_items:
    shapes.append(dict(type="line", xref="paper", yref="paper", x0=px_x(x0), x1=px_x(x1), y0=px_y(yy),
                       y1=px_y(yy), line=dict(color=color, width=w)))
    annotations.append(dict(text=text, xref="paper", yref="paper", x=px_x(tx), y=px_y(yy), xanchor="left",
                            yanchor="middle", showarrow=False, font=dict(family=FONT, size=54, color=TXT)))

for text, cx, cy in [("(a)", 176, 60), ("(b)", 167, 268), ("(c)", 174, 490), ("(d)", 170, 709),
                     ("hv = 701.24 eV", 1395, 712), ("hv = 7936.06 eV", 1396, 940)]:
    annotations.append(dict(text=text, xref="paper", yref="paper", x=px_x(cx), y=px_y(cy), xanchor="center",
                            yanchor="middle", showarrow=False, font=dict(family=FONT, size=54, color=TXT)))

annotations.append(dict(text="Binding Energy (eV)", xref="paper", yref="paper", x=px_x(904), y=px_y(1167),
                        xanchor="center", yanchor="middle", showarrow=False,
                        font=dict(family=FONT, size=50, color=TXT)))
annotations.append(dict(text="DOS (States / eV)", xref="paper", yref="paper", x=px_x(42), y=px_y(321),
                        xanchor="center", yanchor="middle", textangle=-90, showarrow=False,
                        font=dict(family=FONT, size=54, color=TXT)))
annotations.append(dict(text="Intensity (a. u.)", xref="paper", yref="paper", x=px_x(74), y=px_y(877),
                        xanchor="center", yanchor="middle", textangle=-90, showarrow=False,
                        font=dict(family=FONT, size=54, color=TXT)))

layout["shapes"] = shapes
layout["annotations"] = annotations
fig.update_layout(**layout)
fig.write_html("out.html")
